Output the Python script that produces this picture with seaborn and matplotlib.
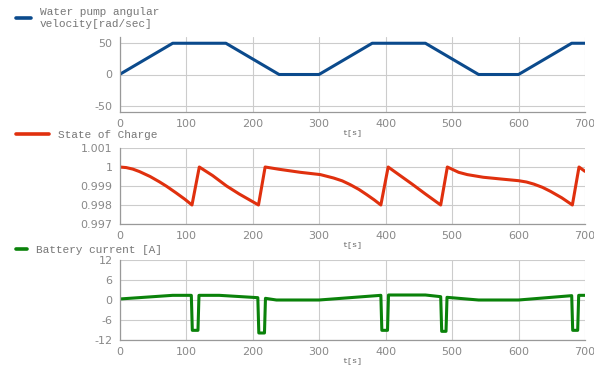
import numpy as np
import pandas as pd
import seaborn as sns
import matplotlib.pyplot as plt
from matplotlib import ticker

# water pump angular velocity [rad/sec]
pump_t = [0, 80, 160, 240, 300, 380, 460, 540, 600, 680, 700]
pump_w = [0, 50, 50, 0, 0, 50, 50, 0, 0, 50, 50]

# state of charge
soc_t = [0, 10, 20, 30, 46, 60, 71, 85, 98, 109, 120, 140, 161, 180, 195, 209, 219,
         240, 272, 302, 322, 335, 347, 360, 372, 383, 393, 404, 420, 440, 460, 483, 493,
         510, 523, 547, 573, 600, 612, 623, 636, 648, 665, 681, 691, 700]
soc_v = [1.0, 0.99997, 0.99989, 0.99976, 0.9995, 0.99922, 0.99898, 0.99864, 0.99831,
         0.998, 1.0, 0.99955, 0.999, 0.99858, 0.99828, 0.998, 1.0,
         0.99988, 0.99972, 0.9996, 0.99942, 0.99927, 0.99907, 0.99882, 0.99854, 0.99827,
         0.998, 1.0, 0.9996, 0.9991, 0.99858, 0.998, 1.0, 0.99972, 0.9996, 0.99946,
         0.99937, 0.99928, 0.99921, 0.9991, 0.99893, 0.99872, 0.99838, 0.998, 1.0, 0.99977]

# battery current [A]
cur_t = [0, 80, 108, 109.5, 118, 119.5, 150, 208, 209.5, 218, 219.5, 236, 300,
         393, 394.5, 403, 404.5, 460, 483, 484.5, 491, 492.5, 540, 600,
         680, 681.5, 689, 690.5, 700]
cur_a = [0.3, 1.4, 1.4, -9.1, -9.1, 1.4, 1.4, 0.7, -9.9, -9.9, 0.5, 0.0, 0.0,
         1.4, -9.1, -9.1, 1.5, 1.5, 1.0, -9.4, -9.4, 0.8, 0.0, 0.0,
         1.3, -9.1, -9.1, 1.4, 1.4]

sns.set_style('whitegrid')
plt.rcParams['font.family'] = ['DejaVu Sans']

fig = plt.figure(figsize=(5.94, 3.68), dpi=100)
W, H = 594, 368

def box(top, bottom):
    return [119.5 / W, 1 - bottom / H, 465.5 / W, (bottom - top) / H]

panels = [
    (box(37, 112), pump_t, pump_w, '#0b4a8c', 'Water pump angular\nvelocity[rad/sec]',
     (-60, 60), [-50, 0, 50], 18.0, 1.4),
    (box(148, 224), soc_t, soc_v, '#e0300e', 'State of Charge',
     (0.997, 1.001), [0.997, 0.998, 0.999, 1.0, 1.001], 135.0, 3.0),
    (box(260, 340), cur_t, cur_a, '#0a820a', 'Battery current [A]',
     (-12, 12), [-12, -6, 0, 6, 12], 250.0, 1.0),
]

gray = '#888888'
for rect, t, v, color, label, ylim, yticks, leg_y, hl in panels:
    ax = fig.add_axes(rect)
    df = pd.DataFrame({'t': t, 'v': v})
    sns.lineplot(data=df, x='t', y='v', ax=ax, color=color, linewidth=2.2,
                 label=label, sort=False, estimator=None)
    ax.set_xlim(0, 700)
    ax.set_ylim(*ylim)
    ax.set_xticks(np.arange(0, 701, 100))
    ax.set_yticks(yticks)
    ax.yaxis.set_major_formatter(ticker.FormatStrFormatter('%g'))
    ax.grid(True, color='#cccccc', linewidth=0.8)
    for side in ['top', 'right']:
        ax.spines[side].set_visible(False)
    for side in ['left', 'bottom']:
        ax.spines[side].set_color('#999999')
        ax.spines[side].set_linewidth(0.9)
    ax.tick_params(axis='both', length=3, width=0.8, color='#aaaaaa',
                   labelsize=8, labelcolor=gray, pad=2)
    ax.set_xlabel('t[s]', family='Liberation Mono', fontsize=6, color='#666666',
                  labelpad=1)
    ax.set_ylabel('')
    leg = ax.legend(loc='center left', bbox_to_anchor=(10 / W, 1 - leg_y / H),
                    bbox_transform=fig.transFigure, frameon=False, borderpad=0,
                    handlelength=hl, handletextpad=0.8,
                    prop={'family': 'Liberation Mono', 'size': 8})
    for txt in leg.get_texts():
        txt.set_color('#777777')
    for line in leg.get_lines():
        line.set_linewidth(2.6)

fig.savefig('out.png', dpi=100)
